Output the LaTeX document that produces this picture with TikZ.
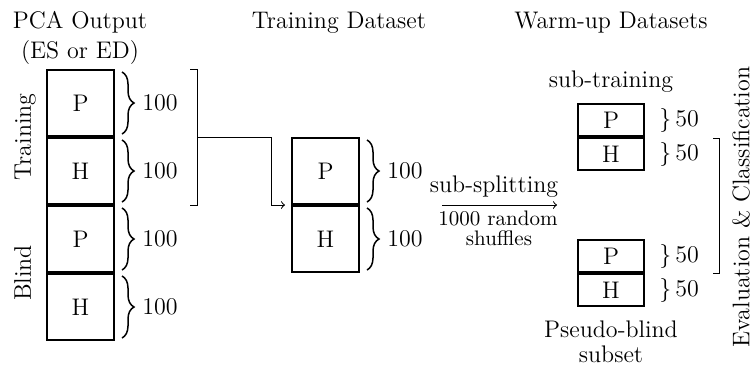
\documentclass[tikz,border=0pt]{standalone}
\usetikzlibrary{decorations.pathreplacing}
\begin{document}
\begin{tikzpicture}[x=0.5pt,y=-0.5pt,
  font=\fontsize{12}{14}\selectfont,
  bigbox/.style={draw,line width=1pt,minimum width=33.5pt,minimum height=33pt,inner sep=0pt},
  smallbox/.style={draw,line width=1pt,minimum width=33pt,minimum height=16pt,inner sep=0pt},
  brc/.style={decorate,decoration={brace,amplitude=6pt},line width=0.75pt},
  thinline/.style={line width=0.5pt},
  lbl/.style={inner sep=0pt},
  small/.style={inner sep=0pt,font=\fontsize{10.5}{12}\selectfont}
]
\useasboundingbox (0,0) rectangle (752,366);

% titles
\node[lbl,anchor=base] (t1) at (80,28) {PCA Output};
\node[lbl,anchor=base] (t1b) at (80,58) {(ES or ED)};
\node[lbl,anchor=base] (t2) at (339,28) {Training Dataset};
\node[lbl,anchor=base] (t3) at (611,28) {Warm-up Datasets};

% PCA output stack
\node[bigbox] (P1) at (80.5,103) {P};
\node[bigbox,anchor=north] (H1) at (P1.south) {H};
\node[bigbox,anchor=north] (P2) at (H1.south) {P};
\node[bigbox,anchor=north] (H2) at (P2.south) {H};

\node[lbl,rotate=90,anchor=base] (ltr) at (31,137) {Training};
\node[lbl,rotate=90,anchor=base] (lbl) at (31,273) {Blind};

\foreach \b/\n in {P1/a,H1/b,P2/c,H2/d}{
  \draw[brc] ([xshift=3.5pt,yshift=-1.5pt]\b.north east) -- ([xshift=3.5pt,yshift=1.5pt]\b.south east);
  \node[lbl,anchor=west] (n\n) at ([xshift=13.5pt]\b.east) {100};
}

% bracket around training part
\coordinate (bt0) at (190,69);
\coordinate (bt1) at (197,69);
\coordinate (bb1) at (197,205);
\coordinate (bb0) at (190,205);
\coordinate (bm) at (197,137);
\draw[thinline] (bt0) -- (bt1) -- (bb1) -- (bb0);

% training dataset stack
\node[bigbox] (TP) at (325.5,171) {P};
\node[bigbox,anchor=north] (TH) at (TP.south) {H};
\foreach \b/\n in {TP/e,TH/f}{
  \draw[brc] ([xshift=3.5pt,yshift=-1.5pt]\b.north east) -- ([xshift=3.5pt,yshift=1.5pt]\b.south east);
  \node[lbl,anchor=west] (n\n) at ([xshift=13.5pt]\b.east) {100};
}
\coordinate (bend) at (271,137);
\draw[thinline,->] (bm) -- (bend) |- ([xshift=-3pt]TP.south west);

% sub-splitting arrow
\coordinate (a1) at (442,205);
\coordinate (a2) at (557,205);
\draw[thinline,->] (a1) -- (a2);
\node[lbl,anchor=base] (ss) at (494,192) {sub-splitting};
\node[small,anchor=base] (rs1) at (498,225) {1000 random};
\node[small,anchor=base] (rs2) at (499,245) {shuffles};

% warm-up datasets
\node[lbl,anchor=base] (st) at (611,87) {sub-training};
\node[smallbox] (SP) at (611,120) {P};
\node[smallbox,anchor=north] (SH) at (SP.south) {H};
\node[smallbox] (BP) at (611,256) {P};
\node[smallbox,anchor=north] (BH) at (BP.south) {H};
\node[lbl,anchor=base] (pb) at (611,337) {Pseudo-blind};
\node[lbl,anchor=base] (pbs) at (611,362) {subset};

\foreach \b/\n in {SP/g,SH/h,BP/i,BH/j}{
  \node[lbl,anchor=west] (n\n) at ([xshift=7pt]\b.east) {$\}$\,50};
}

% evaluation bracket
\coordinate (r0) at (713,138);
\coordinate (r1) at (719,138);
\coordinate (r2) at (719,273);
\coordinate (r3) at (713,273);
\draw[thinline] (r0) -- (r1) -- (r2) -- (r3);
\node[lbl,rotate=90] (ev) at (741,207) {Evaluation \& Classification};
\end{tikzpicture}
\end{document}
